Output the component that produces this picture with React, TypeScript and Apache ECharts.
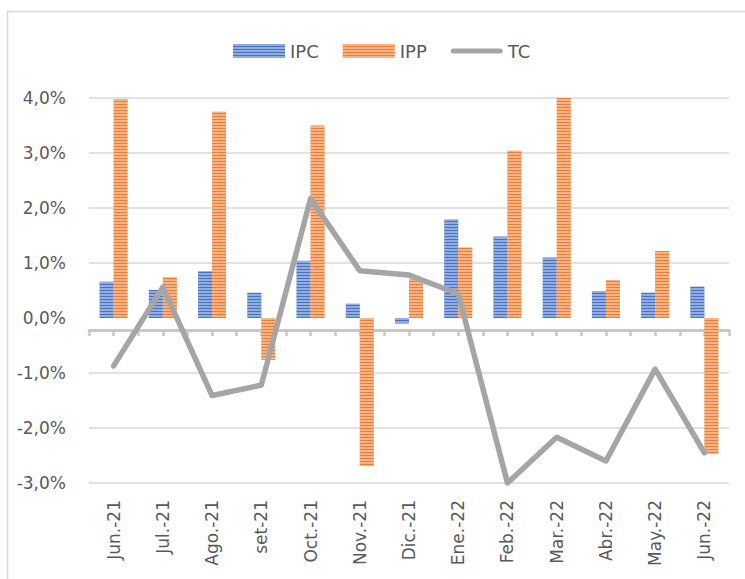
import React, { useEffect, useRef } from "react";
import * as echarts from "echarts";

const months = ["Jun.-21", "Jul.-21", "Ago.-21", "set-21", "Oct.-21", "Nov.-21", "Dic.-21", "Ene.-22", "Feb.-22", "Mar.-22", "Abr.-22", "May.-22", "Jun.-22"];
const ipc = [0.66, 0.51, 0.85, 0.46, 1.04, 0.26, -0.1, 1.79, 1.48, 1.1, 0.49, 0.46, 0.57];
const ipp = [3.98, 0.74, 3.75, -0.76, 3.5, -2.69, 0.71, 1.28, 3.04, 4.0, 0.69, 1.22, -2.47];
const tc = [-0.87, 0.56, -1.41, -1.22, 2.17, 0.86, 0.78, 0.44, -3.0, -2.17, -2.6, -0.93, -2.45];
const yTicks = { min: -3, max: 4, interval: 1 };

const FONT = "DejaVu Sans";
const TXT = "#595959";
const AXIS = "#c8c8c8";

const stripe = {
  symbol: "rect",
  symbolSize: 1,
  dashArrayX: [1, 0],
  dashArrayY: [2, 1],
  rotation: 0,
  color: "rgba(255,255,255,0.42)",
};

export default function App() {
  const ref = useRef<HTMLDivElement>(null);
  useEffect(() => {
    const chart = echarts.init(ref.current!, null, { renderer: "svg" });
    const gridBottomY = 579 - 96;
    const axisY = 330;
    const offset = -(gridBottomY - axisY);
    const hiddenAxisBase = {
      type: "category",
      data: months,
      position: "bottom",
      offset,
      axisLabel: { show: false },
      splitLine: { show: false },
    };
    chart.setOption({
      animation: false,
      backgroundColor: "#ffffff",
      textStyle: { fontFamily: FONT },
      graphic: [
        {
          type: "rect",
          shape: { x: 7.5, y: 11.5, width: 800, height: 700 },
          style: { fill: "none", stroke: "#d9d9d9", lineWidth: 1.5 },
          silent: true,
        },
      ],
      legend: {
        left: 228,
        top: 37,
        itemWidth: 52,
        itemHeight: 14,
        itemGap: 24,
        textStyle: { fontSize: 18, color: TXT, fontFamily: FONT },
        data: [
          { name: "IPC", icon: "rect" },
          { name: "IPP", icon: "rect" },
          {
            name: "TC",
            icon: "path://M2.5,0 L49.5,0 A2.5,2.5 0 0 1 49.5,5 L2.5,5 A2.5,2.5 0 0 1 2.5,0 Z",
            itemStyle: { color: "#a5a5a5" },
          },
        ],
      },
      grid: { left: 89, right: 16, top: 98, bottom: 96 },
      xAxis: [
        {
          type: "category",
          data: months,
          position: "bottom",
          axisLine: { show: false, onZero: false },
          axisTick: { show: false },
          axisLabel: {
            rotate: 90,
            margin: 17,
            fontSize: 17,
            color: TXT,
            fontFamily: FONT,
            interval: 0,
          },
        },
        {
          ...hiddenAxisBase,
          axisLine: { show: true, onZero: false, lineStyle: { color: AXIS, width: 3 } },
          axisTick: { show: true, interval: 0, length: 6, alignWithLabel: false, lineStyle: { color: AXIS, width: 2.5 } },
        },
        {
          ...hiddenAxisBase,
          axisLine: { show: false, onZero: false },
          axisTick: { show: true, interval: 0, length: 6, alignWithLabel: true, lineStyle: { color: AXIS, width: 2.5 } },
        },
      ],
      yAxis: {
        type: "value",
        min: yTicks.min,
        max: yTicks.max,
        interval: yTicks.interval,
        axisLine: { show: false },
        axisTick: { show: false },
        axisLabel: {
          margin: 23,
          fontSize: 17,
          color: TXT,
          fontFamily: FONT,
          formatter: (v: number) => v.toFixed(1).replace(".", ",") + "%",
        },
        splitLine: {
          lineStyle: {
            width: 1.5,
            color: ["#d9d9d9", "#d9d9d9", "#d9d9d9", "rgba(0,0,0,0)", "#d9d9d9", "#d9d9d9", "#d9d9d9", "#d9d9d9"],
          },
        },
      },
      series: [
        {
          name: "IPC",
          type: "bar",
          data: ipc,
          barWidth: 14,
          barGap: "0%",
          itemStyle: { color: "#4472c4", decal: stripe },
        },
        {
          name: "IPP",
          type: "bar",
          data: ipp,
          barWidth: 14,
          barGap: "0%",
          itemStyle: { color: "#ed7d31", decal: stripe },
        },
        {
          name: "TC",
          type: "line",
          data: tc,
          symbol: "none",
          showSymbol: false,
          z: 5,
          lineStyle: { color: "#a5a5a5", width: 5.5, cap: "round", join: "round" },
          itemStyle: { color: "#a5a5a5" },
        },
      ],
    });
    return () => chart.dispose();
  }, []);
  return (
    <div
      ref={ref}
      style={{ position: "fixed", left: 0, top: 0, width: 745, height: 579, background: "#fff" }}
    />
  );
}
